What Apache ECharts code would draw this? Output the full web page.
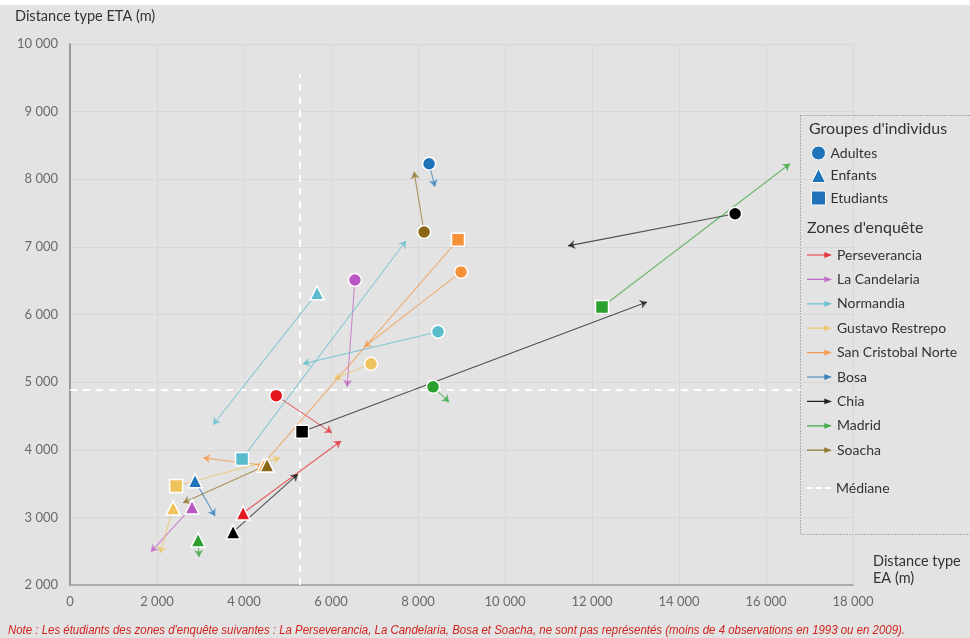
<!DOCTYPE html>
<html><head><meta charset="utf-8">
<script src="https://cdn.jsdelivr.net/npm/echarts@6/dist/echarts.min.js"></script>
<style>html,body{margin:0;padding:0;background:#fff}#c{width:970px;height:638px}</style>
</head><body><div id="c"></div>
<script>
// Survey zones and their colours
const zones = ['Perseverancia','La Candelaria','Normandia','Gustavo Restrepo','San Cristobal Norte','Bosa','Chia','Madrid','Soacha'];
const zoneColors = ['#e3191f','#bb57c2','#58bccd','#efc35c','#f6913a','#1f73b9','#000000','#2ba02f','#8a6714'];
// Groups of individuals
const groups = ['Adultes','Enfants','Etudiants'];
const groupSymbols = ['circle','triangle','rect'];
const groupSizes = [13,14,13];

// [EA (x), ETA (y)] in metres, one entry per zone (order of `zones`); null = not represented
const adultesStart = [[4740,4800],[6550,6510],[8460,5745],[6920,5270],[8990,6630],[8255,8230],[15290,7490],[8345,4930],[8140,7220]];
const adultesEnd   = [[6020,4250],[6370,4930],[5355,5270],[6070,5045],[6760,5520],[8390,7890],[11450,7015],[8715,4705],[7910,8110]];
const enfantsStart = [[3980,3065],[2805,3155],[5680,6320],[2370,3140],[4460,3770],[2875,3540],[3750,2785],[2945,2665],[4530,3775]];
const enfantsEnd   = [[6230,4130],[1860,2490],[3290,4370],[2070,2470],[3060,3880],[3335,3020],[5240,3640],[2965,2415],[2600,3215]];
const etudiantsStart = [null,null,[3955,3865],[2440,3465],[8920,7105],null,[5335,4265],[12230,6110],null];
const etudiantsEnd   = [null,null,[7725,7090],[4830,3880],[4300,3685],null,[13265,6185],[16550,8230],null];

// Medians
const medianEA = 5290;
const medianETA = 4885;
const medianVSpan = [2000, 9550];
const medianHSpan = [0, 16800];

const xMin = 0, xMax = 18000, xStep = 2000;
const yMin = 2000, yMax = 10000, yStep = 1000;

const noteText = "Note : Les étudiants des zones d'enquête suivantes : La Perseverancia, La Candelaria, Bosa et Soacha, ne sont pas représentés (moins de 4 observations en 1993 ou en 2009).";

const starts = [adultesStart, enfantsStart, etudiantsStart];
const ends = [adultesEnd, enfantsEnd, etudiantsEnd];

const fmt = v => String(v).replace(/\B(?=(\d{3})+(?!\d))/g, ' ');
const FONT = 'Lato';

const series = [];
series.push({
  name: 'Médiane', type: 'lines', coordinateSystem: 'cartesian2d', silent: true, z: 1,
  lineStyle: { color: '#ffffff', width: 2, type: [7, 6], opacity: 0.95 },
  itemStyle: { color: '#ffffff' },
  symbol: 'none',
  data: [
    { coords: [[medianEA, medianVSpan[0]], [medianEA, medianVSpan[1]]] },
    { coords: [[medianHSpan[0], medianETA], [medianHSpan[1], medianETA]] }
  ]
});
zones.forEach((z, i) => {
  const data = [];
  for (let g = 0; g < groups.length; g++) {
    const s = starts[g][i], e = ends[g][i];
    if (s && e) data.push({ coords: [s, e] });
  }
  series.push({
    name: z, type: 'lines', coordinateSystem: 'cartesian2d', silent: true, z: 2,
    symbol: ['none', 'arrow'], symbolSize: 7,
    lineStyle: { color: zoneColors[i], width: 1.1, opacity: 0.65 },
    itemStyle: { color: zoneColors[i] },
    data
  });
});
groups.forEach((g, gi) => {
  const data = [];
  zones.forEach((z, i) => {
    const s = starts[gi][i];
    if (s) data.push({ value: s, itemStyle: { color: zoneColors[i] } });
  });
  series.push({
    name: g, type: 'scatter', z: 3, silent: true,
    symbol: groupSymbols[gi], symbolSize: groupSizes[gi],
    itemStyle: { color: '#1f73b9', borderColor: '#ffffff', borderWidth: 1.5, opacity: 1 },
    data
  });
});

const arrowIcon = 'path://M0,3.4L18,3.4L18,1L26,4L18,7L18,4.6L0,4.6Z';
const dashIcon = 'path://M0,3L6,3L6,5L0,5Z M9,3L15,3L15,5L9,5Z M18,3L24,3L24,5L18,5Z';

const noteFont = 'italic 12.5px "Liberation Sans", Arial, sans-serif';
const cv = document.createElement('canvas').getContext('2d');
cv.font = noteFont;
const noteScale = 897 / cv.measureText(noteText).width;

const legendText = { color: '#333', fontSize: 14, lineHeight: 16, fontFamily: FONT };

const option = {
  backgroundColor: '#e3e3e3',
  animation: false,
  textStyle: { fontFamily: FONT },
  grid: { left: 70, right: 117, top: 44, bottom: 53 },
  xAxis: {
    type: 'value', min: xMin, max: xMax, interval: xStep,
    name: 'Distance type\nEA (m)', nameLocation: 'end', nameGap: 20,
    nameTextStyle: { color: '#333', fontSize: 14.5, align: 'left', verticalAlign: 'bottom', lineHeight: 17, padding: [0,0,-2,0] },
    axisLine: { show: true, lineStyle: { color: '#9a9a9a', width: 1.5 } },
    axisTick: { show: false },
    axisLabel: { color: '#6a6a6a', fontSize: 13, margin: 10, formatter: fmt },
    splitLine: { show: true, lineStyle: { color: '#d8d8d8', width: 1 } }
  },
  yAxis: {
    type: 'value', min: yMin, max: yMax, interval: yStep,
    axisLine: { show: true, lineStyle: { color: '#9a9a9a', width: 2 } },
    axisTick: { show: false },
    axisLabel: { color: '#6a6a6a', fontSize: 13, margin: 12, formatter: fmt },
    splitLine: { show: true, lineStyle: { color: '#d8d8d8', width: 1 } }
  },
  legend: [
    {
      orient: 'vertical', left: 811, top: 145, padding: 0, itemWidth: 14, itemHeight: 14, itemGap: 6.5,
      textStyle: legendText, selectedMode: false,
      data: groups.map((g, gi) => ({ name: g, icon: groupSymbols[gi], itemStyle: { color: '#1f73b9', borderColor: '#ffffff', borderWidth: 1, opacity: 1 } }))
    },
    {
      orient: 'vertical', left: 807, top: 247, padding: 0, itemWidth: 25, itemHeight: 14, itemGap: 8.4,
      textStyle: legendText, selectedMode: false,
      data: zones.map((z, i) => ({ name: z, icon: arrowIcon, itemStyle: { color: zoneColors[i], borderWidth: 0, opacity: 0.85 } }))
    },
    {
      orient: 'vertical', left: 807, top: 480, padding: 0, itemWidth: 24, itemHeight: 14,
      textStyle: legendText, selectedMode: false,
      data: [{ name: 'Médiane', icon: dashIcon, itemStyle: { color: '#ffffff', borderWidth: 0 } }]
    }
  ],
  graphic: [
    { type: 'rect', left: 0, top: 0, shape: { width: 970, height: 5 }, style: { fill: '#ffffff' }, silent: true },
    { type: 'rect', shape: { x: 800.5, y: 115.5, width: 180, height: 419 }, style: { fill: 'none', stroke: '#7a7a7a', lineWidth: 1, lineDash: [1, 2] }, silent: true },
    { type: 'text', x: 809, y: 121, style: { text: "Groupes d'individus", fill: '#333', font: '16px Lato' }, silent: true },
    { type: 'text', x: 807, y: 220, style: { text: "Zones d'enquête", fill: '#333', font: '16px Lato' }, silent: true },
    { type: 'text', x: 15, y: 9, style: { text: 'Distance type ETA (m)', fill: '#333', font: '14.5px Lato' }, silent: true },
    { type: 'text', x: 8, y: 624, scaleX: noteScale, style: { x: 0, y: 0, text: noteText, fill: '#d2231e', font: noteFont }, silent: true }
  ],
  series
};
const chart = echarts.init(document.getElementById('c'));
chart.setOption(option);
</script>
</body></html>
